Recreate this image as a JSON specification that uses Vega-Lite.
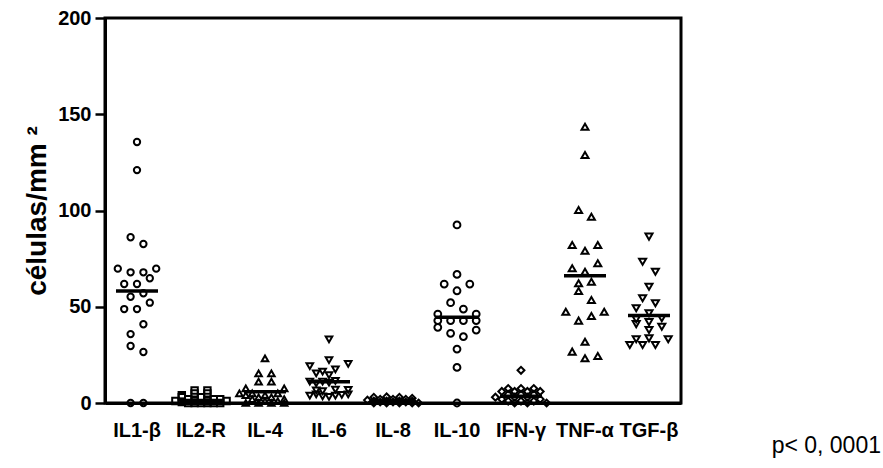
{
  "$schema": "https://vega.github.io/schema/vega-lite/v6.json",
  "width": 576,
  "height": 385,
  "autosize": {"type": "none"},
  "padding": {"left": 105, "top": 18, "right": 202, "bottom": 65},
  "background": "white",
  "config": {
    "view": {"stroke": "black", "strokeWidth": 3},
    "font": "Liberation Sans"
  },
  "title": {
    "text": "p< 0, 0001",
    "orient": "bottom",
    "anchor": "end",
    "dx": 200,
    "offset": -5,
    "fontSize": 23,
    "fontWeight": "normal",
    "font": "Liberation Sans",
    "color": "black"
  },
  "datasets": {
    "pts": [
      {"g": "IL1-β", "v": 135.6, "lane": 0}, {"g": "IL1-β", "v": 121, "lane": 0}, {"g": "IL1-β", "v": 86.1, "lane": -1}, {"g": "IL1-β", "v": 82.6, "lane": 1},
      {"g": "IL1-β", "v": 69.8, "lane": -3}, {"g": "IL1-β", "v": 67.9, "lane": -1}, {"g": "IL1-β", "v": 67.9, "lane": 1}, {"g": "IL1-β", "v": 69.8, "lane": 3},
      {"g": "IL1-β", "v": 64.8, "lane": 2}, {"g": "IL1-β", "v": 61.8, "lane": -2}, {"g": "IL1-β", "v": 61.8, "lane": 0}, {"g": "IL1-β", "v": 55.2, "lane": -1},
      {"g": "IL1-β", "v": 57, "lane": 1}, {"g": "IL1-β", "v": 52.1, "lane": 2}, {"g": "IL1-β", "v": 48.8, "lane": -2}, {"g": "IL1-β", "v": 48.8, "lane": 0},
      {"g": "IL1-β", "v": 40.9, "lane": 1}, {"g": "IL1-β", "v": 35.8, "lane": -1}, {"g": "IL1-β", "v": 29.6, "lane": -1}, {"g": "IL1-β", "v": 26.5, "lane": 1},
      {"g": "IL1-β", "v": 0, "lane": -1}, {"g": "IL1-β", "v": 0, "lane": 1},

      {"g": "IL2-R", "v": 6.5, "lane": -1}, {"g": "IL2-R", "v": 6.5, "lane": 1}, {"g": "IL2-R", "v": 5, "lane": -1}, {"g": "IL2-R", "v": 5, "lane": 1},
      {"g": "IL2-R", "v": 4, "lane": -3}, {"g": "IL2-R", "v": 3, "lane": -3}, {"g": "IL2-R", "v": 3, "lane": 0}, {"g": "IL2-R", "v": 2, "lane": -2},
      {"g": "IL2-R", "v": 2, "lane": 2}, {"g": "IL2-R", "v": 2, "lane": 3}, {"g": "IL2-R", "v": 1, "lane": -4}, {"g": "IL2-R", "v": 1, "lane": -1},
      {"g": "IL2-R", "v": 1, "lane": 1}, {"g": "IL2-R", "v": 1, "lane": 4}, {"g": "IL2-R", "v": 0.5, "lane": -3}, {"g": "IL2-R", "v": 0, "lane": -2},
      {"g": "IL2-R", "v": 0, "lane": 0}, {"g": "IL2-R", "v": 0, "lane": 2}, {"g": "IL2-R", "v": 0, "lane": 3}, {"g": "IL2-R", "v": 0, "lane": -1},
      {"g": "IL2-R", "v": 0, "lane": 1},

      {"g": "IL-4", "v": 23.2, "lane": 0}, {"g": "IL-4", "v": 15.4, "lane": -1}, {"g": "IL-4", "v": 15.4, "lane": 1}, {"g": "IL-4", "v": 11.1, "lane": -1},
      {"g": "IL-4", "v": 11.1, "lane": 1}, {"g": "IL-4", "v": 7.6, "lane": -3}, {"g": "IL-4", "v": 7.6, "lane": 3}, {"g": "IL-4", "v": 5, "lane": -4},
      {"g": "IL-4", "v": 5, "lane": -2}, {"g": "IL-4", "v": 5, "lane": 2}, {"g": "IL-4", "v": 4, "lane": 0}, {"g": "IL-4", "v": 4, "lane": -3},
      {"g": "IL-4", "v": 3, "lane": -1}, {"g": "IL-4", "v": 3, "lane": 1}, {"g": "IL-4", "v": 2, "lane": 3}, {"g": "IL-4", "v": 2, "lane": -2},
      {"g": "IL-4", "v": 1, "lane": 0}, {"g": "IL-4", "v": 1, "lane": 2}, {"g": "IL-4", "v": 0, "lane": -1}, {"g": "IL-4", "v": 0, "lane": 1},
      {"g": "IL-4", "v": 0, "lane": -3}, {"g": "IL-4", "v": 0, "lane": 3},

      {"g": "IL-6", "v": 33, "lane": 0}, {"g": "IL-6", "v": 22.3, "lane": 0}, {"g": "IL-6", "v": 19.2, "lane": -3}, {"g": "IL-6", "v": 20.3, "lane": 3},
      {"g": "IL-6", "v": 15.4, "lane": -2}, {"g": "IL-6", "v": 16.3, "lane": -1}, {"g": "IL-6", "v": 14.5, "lane": 0}, {"g": "IL-6", "v": 17.5, "lane": 1},
      {"g": "IL-6", "v": 11.1, "lane": -3}, {"g": "IL-6", "v": 10.2, "lane": -2}, {"g": "IL-6", "v": 11.1, "lane": -1}, {"g": "IL-6", "v": 10.6, "lane": 0},
      {"g": "IL-6", "v": 11.5, "lane": 1}, {"g": "IL-6", "v": 6.5, "lane": -2}, {"g": "IL-6", "v": 6.2, "lane": -1}, {"g": "IL-6", "v": 7, "lane": 1},
      {"g": "IL-6", "v": 6.8, "lane": 3}, {"g": "IL-6", "v": 3.8, "lane": -3}, {"g": "IL-6", "v": 4.5, "lane": -2}, {"g": "IL-6", "v": 3.5, "lane": -1},
      {"g": "IL-6", "v": 3.2, "lane": 0}, {"g": "IL-6", "v": 3.8, "lane": 1}, {"g": "IL-6", "v": 4.2, "lane": 2}, {"g": "IL-6", "v": 4.5, "lane": 3},

      {"g": "IL-8", "v": 3, "lane": -3}, {"g": "IL-8", "v": 3.2, "lane": -1}, {"g": "IL-8", "v": 3, "lane": 1}, {"g": "IL-8", "v": 2.5, "lane": 3},
      {"g": "IL-8", "v": 2, "lane": -2}, {"g": "IL-8", "v": 2, "lane": 0}, {"g": "IL-8", "v": 2, "lane": 2}, {"g": "IL-8", "v": 1.5, "lane": -4},
      {"g": "IL-8", "v": 1, "lane": -3}, {"g": "IL-8", "v": 1, "lane": -1}, {"g": "IL-8", "v": 1, "lane": 1}, {"g": "IL-8", "v": 1, "lane": 3},
      {"g": "IL-8", "v": 0.5, "lane": -2}, {"g": "IL-8", "v": 0.5, "lane": 0}, {"g": "IL-8", "v": 0.5, "lane": 2}, {"g": "IL-8", "v": 0, "lane": -3},
      {"g": "IL-8", "v": 0, "lane": -1}, {"g": "IL-8", "v": 0, "lane": 1}, {"g": "IL-8", "v": 0, "lane": 3}, {"g": "IL-8", "v": 0, "lane": 4},

      {"g": "IL-10", "v": 92.5, "lane": 0}, {"g": "IL-10", "v": 66.8, "lane": 0}, {"g": "IL-10", "v": 61.8, "lane": -2}, {"g": "IL-10", "v": 61.8, "lane": 2},
      {"g": "IL-10", "v": 58.3, "lane": 0}, {"g": "IL-10", "v": 52.1, "lane": -1}, {"g": "IL-10", "v": 48.8, "lane": 1}, {"g": "IL-10", "v": 46.2, "lane": -3},
      {"g": "IL-10", "v": 46.2, "lane": 3}, {"g": "IL-10", "v": 42.8, "lane": -3}, {"g": "IL-10", "v": 42.8, "lane": -1}, {"g": "IL-10", "v": 42.8, "lane": 1},
      {"g": "IL-10", "v": 42.8, "lane": 3}, {"g": "IL-10", "v": 39.3, "lane": -3}, {"g": "IL-10", "v": 37.9, "lane": 3}, {"g": "IL-10", "v": 36.2, "lane": -1},
      {"g": "IL-10", "v": 34.5, "lane": 1}, {"g": "IL-10", "v": 28, "lane": 0}, {"g": "IL-10", "v": 18.5, "lane": 0}, {"g": "IL-10", "v": 0, "lane": 0},

      {"g": "IFN-γ", "v": 17, "lane": 0}, {"g": "IFN-γ", "v": 7.5, "lane": -2}, {"g": "IFN-γ", "v": 7.5, "lane": 0}, {"g": "IFN-γ", "v": 7.5, "lane": 2},
      {"g": "IFN-γ", "v": 6, "lane": -3}, {"g": "IFN-γ", "v": 6, "lane": -1}, {"g": "IFN-γ", "v": 6, "lane": 1}, {"g": "IFN-γ", "v": 6, "lane": 3},
      {"g": "IFN-γ", "v": 4.5, "lane": -2}, {"g": "IFN-γ", "v": 4.5, "lane": 0}, {"g": "IFN-γ", "v": 4.5, "lane": 2}, {"g": "IFN-γ", "v": 3, "lane": -4},
      {"g": "IFN-γ", "v": 3, "lane": -1}, {"g": "IFN-γ", "v": 3, "lane": 1}, {"g": "IFN-γ", "v": 2, "lane": -3}, {"g": "IFN-γ", "v": 2, "lane": 3},
      {"g": "IFN-γ", "v": 1, "lane": -2}, {"g": "IFN-γ", "v": 1, "lane": 0}, {"g": "IFN-γ", "v": 1, "lane": 2}, {"g": "IFN-γ", "v": 0, "lane": -1},
      {"g": "IFN-γ", "v": 0, "lane": 1}, {"g": "IFN-γ", "v": 0, "lane": 4},

      {"g": "TNF-α", "v": 143.5, "lane": 0}, {"g": "TNF-α", "v": 128.8, "lane": 0}, {"g": "TNF-α", "v": 100.3, "lane": -1}, {"g": "TNF-α", "v": 96.8, "lane": 1},
      {"g": "TNF-α", "v": 82.1, "lane": -2}, {"g": "TNF-α", "v": 79.1, "lane": 0}, {"g": "TNF-α", "v": 82.1, "lane": 2}, {"g": "TNF-α", "v": 70, "lane": -2},
      {"g": "TNF-α", "v": 72.6, "lane": 2}, {"g": "TNF-α", "v": 68.2, "lane": 0}, {"g": "TNF-α", "v": 62.2, "lane": -1}, {"g": "TNF-α", "v": 63, "lane": 1},
      {"g": "TNF-α", "v": 58.2, "lane": -1}, {"g": "TNF-α", "v": 53.5, "lane": 1}, {"g": "TNF-α", "v": 47.4, "lane": -3}, {"g": "TNF-α", "v": 42.8, "lane": -1},
      {"g": "TNF-α", "v": 45.2, "lane": 1}, {"g": "TNF-α", "v": 47.4, "lane": 3}, {"g": "TNF-α", "v": 31.8, "lane": 0}, {"g": "TNF-α", "v": 26.7, "lane": -2},
      {"g": "TNF-α", "v": 23.2, "lane": 0}, {"g": "TNF-α", "v": 24.4, "lane": 2},

      {"g": "TGF-β", "v": 86.4, "lane": 0}, {"g": "TGF-β", "v": 73.4, "lane": -1}, {"g": "TGF-β", "v": 68.2, "lane": 1}, {"g": "TGF-β", "v": 60.4, "lane": 0},
      {"g": "TGF-β", "v": 54.4, "lane": -1}, {"g": "TGF-β", "v": 51.8, "lane": 1}, {"g": "TGF-β", "v": 49.2, "lane": -2}, {"g": "TGF-β", "v": 46.6, "lane": 0},
      {"g": "TGF-β", "v": 44, "lane": 2}, {"g": "TGF-β", "v": 43.5, "lane": -2}, {"g": "TGF-β", "v": 41, "lane": -2}, {"g": "TGF-β", "v": 42, "lane": 0},
      {"g": "TGF-β", "v": 39.6, "lane": 2}, {"g": "TGF-β", "v": 37.9, "lane": 0}, {"g": "TGF-β", "v": 33.1, "lane": -2}, {"g": "TGF-β", "v": 33.6, "lane": 0},
      {"g": "TGF-β", "v": 33.1, "lane": 3}, {"g": "TGF-β", "v": 30.1, "lane": -3}, {"g": "TGF-β", "v": 30.1, "lane": -1}, {"g": "TGF-β", "v": 30.1, "lane": 1}
    ],
    "means": [
      {"g": "IL1-β", "v": 58.2}, {"g": "IL2-R", "v": 1.2}, {"g": "IL-4", "v": 5.8},
      {"g": "IL-6", "v": 11.1}, {"g": "IL-8", "v": 0.8}, {"g": "IL-10", "v": 44.5},
      {"g": "IFN-γ", "v": 3.5}, {"g": "TNF-α", "v": 66.1}, {"g": "TGF-β", "v": 45.4}
    ]
  },
  "layer": [
    {
      "data": {"name": "pts"},
      "mark": {"type": "point", "filled": false, "stroke": "black", "strokeWidth": 2, "opacity": 1},
      "encoding": {
        "x": {
          "field": "g", "type": "nominal",
          "sort": ["IL1-β", "IL2-R", "IL-4", "IL-6", "IL-8", "IL-10", "IFN-γ", "TNF-α", "TGF-β"],
          "scale": {"paddingInner": 0, "paddingOuter": 0},
          "axis": {
            "title": null, "labelAngle": 0, "ticks": false,
            "labelFontSize": 20, "labelFontWeight": "bold", "labelColor": "black",
            "labelPadding": 17, "domainColor": "black", "domainWidth": 3,
            "labelFont": "Liberation Sans"
          }
        },
        "xOffset": {
          "field": "lane", "type": "ordinal",
          "scale": {"type": "point", "domain": [-4, -3, -2, -1, 0, 1, 2, 3, 4], "padding": 1.5}
        },
        "y": {
          "field": "v", "type": "quantitative",
          "scale": {"domain": [0, 200], "nice": false},
          "axis": {
            "values": [0, 50, 100, 150, 200],
            "title": "células/mm ²",
            "titleFontSize": 28, "titleFontWeight": "bold", "titleColor": "black",
            "titleFont": "Liberation Sans", "titlePadding": 6,
            "labelFontSize": 20, "labelFontWeight": "bold", "labelColor": "black",
            "labelFont": "Liberation Sans", "labelPadding": 4,
            "tickColor": "black", "tickSize": 10, "tickWidth": 2.5,
            "domainColor": "black", "domainWidth": 3, "grid": false
          }
        },
        "shape": {
          "field": "g", "type": "nominal",
          "scale": {
            "domain": ["IL1-β", "IL2-R", "IL-4", "IL-6", "IL-8", "IL-10", "IFN-γ", "TNF-α", "TGF-β"],
            "range": ["circle", "square", "triangle-up", "triangle-down", "diamond", "circle", "diamond", "triangle-up", "triangle-down"]
          },
          "legend": null
        },
        "size": {
          "field": "g", "type": "nominal",
          "scale": {
            "domain": ["IL1-β", "IL2-R", "IL-4", "IL-6", "IL-8", "IL-10", "IFN-γ", "TNF-α", "TGF-β"],
            "range": [40, 50, 65, 65, 90, 40, 90, 65, 65]
          },
          "legend": null
        }
      }
    },
    {
      "data": {"name": "means"},
      "mark": {"type": "tick", "color": "black", "size": 42, "thickness": 3.5, "opacity": 1},
      "encoding": {
        "x": {"field": "g", "type": "nominal", "sort": ["IL1-β", "IL2-R", "IL-4", "IL-6", "IL-8", "IL-10", "IFN-γ", "TNF-α", "TGF-β"]},
        "y": {"field": "v", "type": "quantitative"}
      }
    }
  ]
}
